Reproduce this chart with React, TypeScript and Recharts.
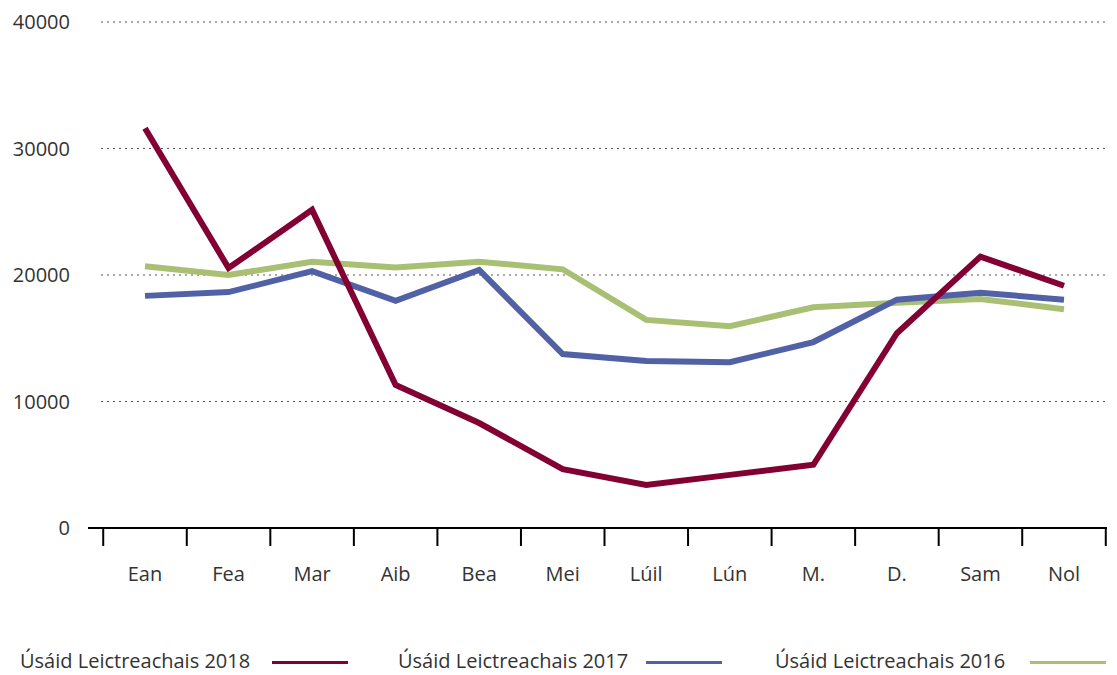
import { FC } from "react";
import { LineChart, Line, XAxis, YAxis, CartesianGrid } from "recharts";

const months = ["Ean", "Fea", "Mar", "Aib", "Bea", "Mei", "Lúil", "Lún", "M.", "D.", "Sam", "Nol"];
const usage2018 = [31600, 20550, 25150, 11300, 8300, 4650, 3400, 4200, 5000, 15400, 21450, 19150];
const usage2017 = [18350, 18650, 20300, 17950, 20400, 13750, 13200, 13100, 14700, 18050, 18600, 18050];
const usage2016 = [20700, 20000, 21050, 20600, 21050, 20450, 16450, 15950, 17450, 17800, 18100, 17300];
const yTicks = [0, 10000, 20000, 30000, 40000];

const seriesNames = ["Úsáid Leictreachais 2018", "Úsáid Leictreachais 2017", "Úsáid Leictreachais 2016"];
const colors = ["#820032", "#5161a6", "#a9c074"];

const data = months.map((m, i) => ({
    month: m,
    s2018: usage2018[i],
    s2017: usage2017[i],
    s2016: usage2016[i],
}));

const FONT = "'Open Sans', 'Noto Sans', sans-serif";
const STEP = (1064 - 145) / 11;

const MonthTick: FC<any> = ({ x, y, payload, index }) => {
    const top = y - 8;
    return (
        <g>
            <line x1={x - STEP / 2} x2={x - STEP / 2} y1={top} y2={top + 18} stroke="#000" strokeWidth={2} />
            {index === months.length - 1 && (
                <line x1={x + STEP / 2} x2={x + STEP / 2} y1={top} y2={top + 18} stroke="#000" strokeWidth={2} />
            )}
            <text x={x} y={top + 53} textAnchor="middle" fill="#333" fontSize={20} fontFamily={FONT}>
                {payload.value}
            </text>
        </g>
    );
};

const legendPos = [
    { text: 20, line: 272 },
    { text: 398, line: 646 },
    { text: 775, line: 1030 },
];

export default function App() {
    return (
        <div style={{ position: "absolute", left: 0, top: 0, width: 1117, height: 675, background: "#fff" }}>
            <LineChart
                width={1117}
                height={600}
                data={data}
                margin={{ top: 22, right: 10, left: 0, bottom: 0 }}
            >
                <CartesianGrid vertical={false} stroke="#555" strokeDasharray="2 4" strokeWidth={1} />
                <XAxis
                    dataKey="month"
                    height={72}
                    padding={{ left: 44, right: 43 }}
                    axisLine={{ stroke: "#000", strokeWidth: 2 }}
                    tickLine={false}
                    tick={<MonthTick />}
                    interval={0}
                />
                <YAxis
                    width={101}
                    domain={[0, 40000]}
                    ticks={yTicks}
                    axisLine={false}
                    tickLine={false}
                    tick={{ fill: "#333", fontSize: 20, fontFamily: FONT }}
                    tickMargin={25}
                />
                <Line dataKey="s2016" stroke={colors[2]} strokeWidth={6} dot={false} isAnimationActive={false} strokeLinejoin="miter" />
                <Line dataKey="s2017" stroke={colors[1]} strokeWidth={6} dot={false} isAnimationActive={false} strokeLinejoin="miter" />
                <Line dataKey="s2018" stroke={colors[0]} strokeWidth={6} dot={false} isAnimationActive={false} strokeLinejoin="miter" />
            </LineChart>
            {/* axis line runs a little past the first tick, as in the original */}
            <div style={{ position: "absolute", left: 88, top: 527, width: 14, height: 2, background: "#000" }} />
            {seriesNames.map((name, i) => (
                <div key={name}>
                    <div
                        style={{
                            position: "absolute",
                            left: legendPos[i].text,
                            top: 647,
                            fontFamily: FONT,
                            fontSize: 20,
                            color: "#333",
                            lineHeight: "28px",
                            whiteSpace: "nowrap",
                        }}
                    >
                        {name}
                    </div>
                    <div
                        style={{
                            position: "absolute",
                            left: legendPos[i].line,
                            top: 661,
                            width: 76,
                            height: 3,
                            background: colors[i],
                        }}
                    />
                </div>
            ))}
        </div>
    );
}
